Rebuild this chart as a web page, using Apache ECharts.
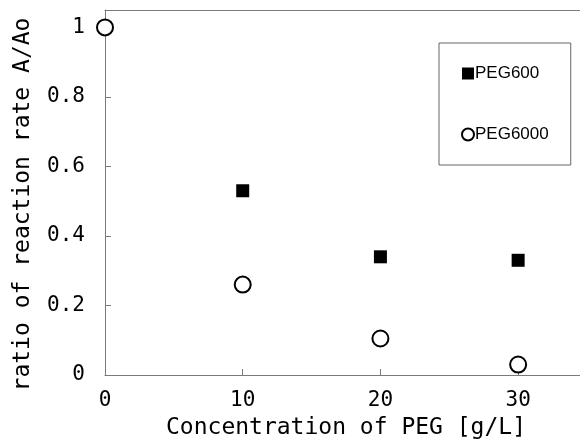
<!DOCTYPE html>
<html>
<head>
<meta charset="utf-8">
<script src="https://cdn.jsdelivr.net/npm/echarts@6/dist/echarts.min.js"></script>
<style>
html, body { margin: 0; padding: 0; background: #fff; }
#chart { width: 580px; height: 439px; }
</style>
</head>
<body>
<div id="chart"></div>
<script>
// 反応速度比 vs PEG濃度
var concentration = [0, 10, 20, 30];
var peg600 = [null, 0.53, 0.34, 0.33];
var peg6000 = [1.0, 0.26, 0.105, 0.03];
var yTicks = [0, 0.2, 0.4, 0.6, 0.8, 1];

var monoFont = '"DejaVu Sans Mono", monospace';
var axisGray = '#7a7a7a';

function pairs(xs, ys) {
	var out = [];
	for (var i = 0; i < xs.length; i++) {
		if (ys[i] !== null) out.push([xs[i], ys[i]]);
	}
	return out;
}

var chart = echarts.init(document.getElementById('chart'));
var option = {
	animation: false,
	backgroundColor: '#fff',
	grid: {
		left: 105,
		top: 10,
		right: -7,
		bottom: 64,
		outerBoundsMode: 'none',
		containLabel: false,
		show: false
	},
	legend: {
		orient: 'vertical',
		left: 439,
		top: 43,
		padding: [22, 22, 22, 22],
		itemGap: 44,
		itemWidth: 12,
		itemHeight: 12,
		borderColor: '#666',
		borderWidth: 1,
		backgroundColor: '#fff',
		textStyle: {
			fontFamily: '"Liberation Sans Narrow", "Liberation Sans", sans-serif',
			fontSize: 17,
			color: '#000',
			padding: [0, 0, 0, -4]
		},
		data: ['PEG600', 'PEG6000']
	},
	xAxis: [
		{
			type: 'value',
			min: 0,
			max: 35,
			interval: 10,
			name: 'Concentration of PEG [g/L]',
			nameLocation: 'middle',
			nameGap: 42,
			nameTextStyle: { fontFamily: monoFont, fontSize: 23, color: '#000' },
			axisLine: { lineStyle: { color: axisGray } },
			axisTick: { inside: true, length: 6, lineStyle: { color: axisGray } },
			axisLabel: {
				fontFamily: monoFont, fontSize: 21, color: '#000', margin: 15,
				showMaxLabel: false
			},
			splitLine: { show: false }
		},
		{
			// 上枠線だけ
			type: 'value',
			position: 'top',
			min: 0,
			max: 35,
			axisLine: { show: true, lineStyle: { color: axisGray } },
			axisTick: { show: false },
			axisLabel: { show: false },
			splitLine: { show: false }
		}
	],
	yAxis: {
		type: 'value',
		min: 0,
		max: 1.05,
		interval: 0.2,
		name: 'ratio of reaction rate A/Ao',
		nameLocation: 'middle',
		nameGap: 70,
		nameTextStyle: {
			fontFamily: monoFont, fontSize: 23, color: '#000',
			padding: [0, 24, 0, 0]
		},
		axisLine: { show: true, lineStyle: { color: axisGray } },
		axisTick: { show: true, inside: true, length: 6, lineStyle: { color: axisGray } },
		axisLabel: {
			fontFamily: monoFont, fontSize: 21, color: '#000', margin: 20,
			showMaxLabel: false,
			formatter: function (v) {
				for (var i = 0; i < yTicks.length; i++) {
					if (Math.abs(v - yTicks[i]) < 1e-6) return String(yTicks[i]);
				}
				return '';
			}
		},
		splitLine: { show: false }
	},
	series: [
		{
			name: 'PEG600',
			type: 'scatter',
			symbol: 'rect',
			symbolSize: 13,
			itemStyle: { color: '#000', opacity: 1 },
			data: pairs(concentration, peg600)
		},
		{
			name: 'PEG6000',
			type: 'scatter',
			symbol: 'circle',
			symbolSize: 16,
			itemStyle: { color: '#fff', borderColor: '#000', borderWidth: 2, opacity: 1 },
			data: pairs(concentration, peg6000)
		}
	]
};
chart.setOption(option);
</script>
</body>
</html>
